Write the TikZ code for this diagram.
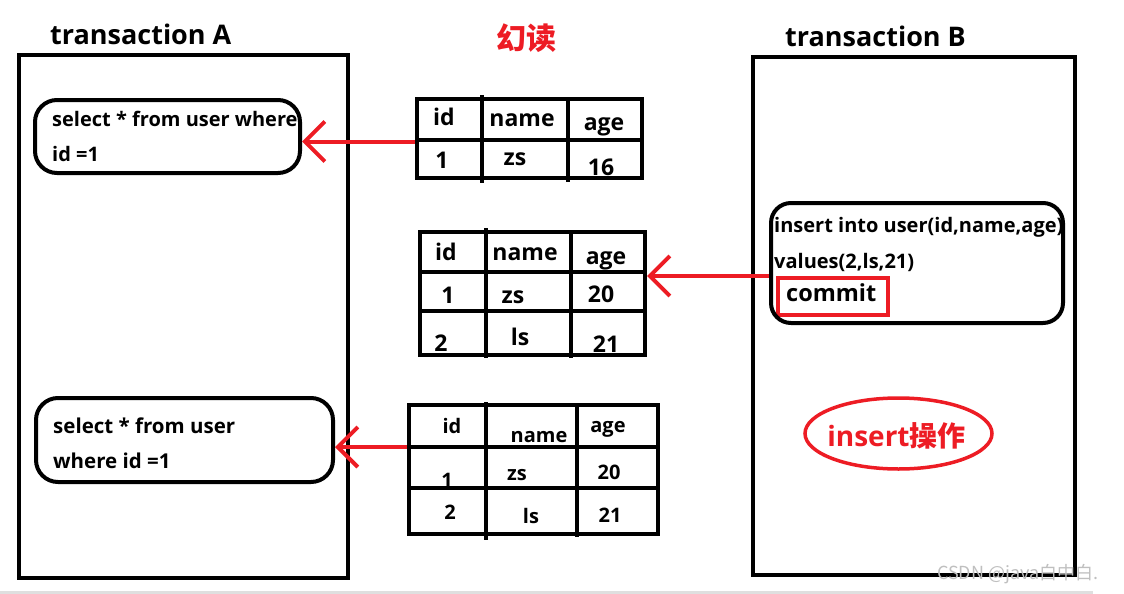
\documentclass[tikz,border=0pt]{standalone}
\usepackage{fontspec}
\setmainfont{Open Sans}
\newfontfamily\cjk{Noto Sans CJK SC}
\usetikzlibrary{arrows.meta,shapes.geometric}
\definecolor{paintred}{RGB}{237,28,36}

\begin{document}
\begin{tikzpicture}[x=1pt, y=-1pt,
    frame/.style={draw, line width=4pt, inner sep=0pt},
    sqlbox/.style={draw, line width=4pt, rounded corners=22pt, inner sep=0pt},
    title/.style={anchor=base west, inner sep=0pt, font=\fontsize{27}{31}\bfseries},
    sql/.style={anchor=base west, inner sep=0pt, font=\fontsize{20}{24}\bfseries},
    cell/.style={anchor=base, inner sep=0pt},
    redarrow/.style={draw=paintred, line width=4pt, -{Straight Barb[length=20pt, width=40pt]}},
  ]
  \useasboundingbox (0,0) rectangle (1124,594);

  % transaction A
  \node[title] (tta) at (50,45) {transaction A};
  \node[frame, minimum width=329pt, minimum height=523pt] (boxa) at (183.5,316.5) {};
  \node[sql] (qa1a) at (52,126) {select * from user where};
  \node[sql] (qa1b) at (52,161) {id =1};
  \node[sqlbox, minimum width=265pt, minimum height=73pt] (qa1) at (167.5,136.5) {};
  \node[sql, font=\fontsize{20.5}{24}\bfseries] (qa2a) at (53,433) {select * from user};
  \node[sql, font=\fontsize{20.5}{24}\bfseries] (qa2b) at (53,468) {where id =1};
  \node[sqlbox, minimum width=297pt, minimum height=84pt] (qa2) at (184.5,440) {};

  % title
  \node[text=paintred, font=\cjk\bfseries\fontsize{30}{34}\selectfont] (phantom) at (526,38) {幻读};

  % tables
  \node[frame, minimum width=225pt, minimum height=79pt] (t1) at (529.5,138.5) {};
  \draw[line width=4pt] (417,140) -- (642,140);
  \draw[line width=4pt] (482,95) -- (482,183) (568,97) -- (568,182);
  \foreach \x/\y/\t [count=\i] in {444/125/id, 522/126/name, 604/130/age,
      442/168/1, 515/165/zs, 601/175/16}
    \node[cell, font=\fontsize{23}{26}\bfseries] (ca\i) at (\x,\y) {\t};

  \node[frame, minimum width=225pt, minimum height=123pt] (t2) at (532.5,293.5) {};
  \draw[line width=4pt] (420,272) -- (645,272) (420,311) -- (645,311);
  \draw[line width=4pt] (486,228) -- (486,358) (571,231) -- (571,358);
  \foreach \x/\y/\t [count=\i] in {446/260/id, 525/260/name, 606/264/age,
      448/303/1, 513/303/zs, 601/302/20, 441/351/2, 520/345/ls, 606/352/21}
    \node[cell, font=\fontsize{23}{26}\bfseries] (cb\i) at (\x,\y) {\t};

  \node[frame, minimum width=249pt, minimum height=129pt] (t3) at (533.5,469.5) {};
  \draw[line width=4pt] (409,447) -- (658,447) (407,488) -- (658,488);
  \draw[line width=4pt] (486,402) -- (486,540) (577,405) -- (577,537);
  \foreach \x/\y/\t [count=\i] in {452/433/id, 539/442/name, 608/432/age,
      447/487/1, 517/480/zs, 609/479/20, 450/519/2, 531/523/ls, 610/522/21}
    \node[cell, font=\fontsize{20}{24}\bfseries] (cc\i) at (\x,\y) {\t};

  % transaction B
  \node[title] (ttb) at (785,47) {transaction B};
  \node[frame, minimum width=322pt, minimum height=518pt] (boxb) at (914,316) {};
  \node[sql] (qb1a) at (774,232) {insert into user(id,name,age)};
  \node[sql] (qb1b) at (774,268) {values(2,ls,21)};
  \node[draw=paintred, line width=3.5pt, minimum width=110pt, minimum height=37pt,
    inner sep=0pt] (commitbox) at (833,296.5) {};
  \node[sql, font=\fontsize{23.5}{27}\bfseries] (commit) at (786,301) {commit};
  \node[sqlbox, rounded corners=20pt, minimum width=292pt, minimum height=120pt] (qb1) at (917,263) {};
  \node[ellipse, draw=paintred, line width=3.5pt, minimum width=187pt, minimum height=71pt,
    inner sep=0pt] (ins) at (898.5,433.5) {};
  \node[anchor=base, inner sep=0pt, text=paintred, font=\fontsize{28}{32}\bfseries]
    (inslabel) at (896.5,446) {insert{\cjk\bfseries 操作}};

  % arrows
  \draw[redarrow] ([yshift=-3pt]t1.west) -- ([yshift=-3pt]t1.west -| qa1.east);
  \draw[redarrow] ([yshift=-13pt]qb1.west) -- ([yshift=-13pt]qb1.west -| t2.east);
  \draw[redarrow] ([yshift=-7pt]qa2.east -| t3.west) -- ([yshift=-7pt]qa2.east);

  % watermark
  \fill[gray!25] (0,591) rectangle (1093,594);
  \node[anchor=base west, inner sep=0pt, text=gray!50, font=\cjk\fontsize{18}{20}\selectfont]
    (mark) at (937,579) {CSDN @java白中白.};
\end{tikzpicture}
\end{document}
